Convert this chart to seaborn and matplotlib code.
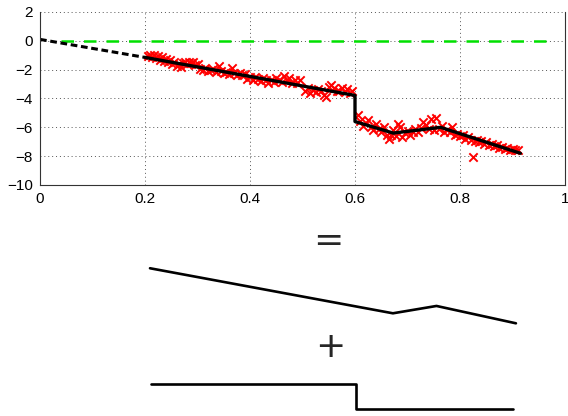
import numpy as np
import pandas as pd
import matplotlib
matplotlib.use("Agg")
import matplotlib.pyplot as plt
import seaborn as sns

# ---- data ----
obs_x = [0.205, 0.21, 0.213, 0.217, 0.22, 0.224, 0.228, 0.232, 0.236, 0.24, 0.244, 0.248,
         0.252, 0.256, 0.26, 0.264, 0.268, 0.272, 0.276, 0.28, 0.284, 0.288, 0.292, 0.296, 0.30,
         0.305, 0.31, 0.315, 0.32, 0.325, 0.33, 0.335, 0.34, 0.345, 0.35, 0.355, 0.36, 0.365,
         0.37, 0.375, 0.38, 0.385, 0.39, 0.395, 0.40,
         0.405, 0.41, 0.415, 0.42, 0.425, 0.43, 0.435, 0.44, 0.445, 0.45, 0.455, 0.46, 0.465,
         0.47, 0.475, 0.48, 0.485, 0.49, 0.495,
         0.505, 0.51, 0.515, 0.52, 0.525, 0.53, 0.535, 0.54, 0.545, 0.55, 0.555, 0.56, 0.565,
         0.57, 0.575, 0.58, 0.585, 0.59, 0.595,
         0.605, 0.61, 0.615, 0.62, 0.625, 0.63, 0.635, 0.64, 0.645, 0.65, 0.655, 0.66, 0.665,
         0.668, 0.672,
         0.678, 0.682, 0.686, 0.69, 0.695, 0.70, 0.705, 0.71, 0.715, 0.72, 0.725, 0.73, 0.735,
         0.74, 0.745, 0.75, 0.755, 0.76, 0.765,
         0.77, 0.775, 0.78, 0.785, 0.79, 0.795, 0.80, 0.805, 0.81, 0.815, 0.82, 0.824, 0.828,
         0.832, 0.836, 0.84, 0.845, 0.85, 0.855, 0.86, 0.865, 0.87, 0.875, 0.88, 0.885, 0.89,
         0.895, 0.90, 0.905, 0.91]
obs_y = [-1.05, -0.95, -1.15, -1.0, -1.2, -1.05, -1.3, -1.15, -1.4, -1.25, -1.45, -1.35,
         -1.6, -1.5, -1.75, -1.6, -1.8, -1.55, -1.45, -1.6, -1.45, -1.55, -1.5, -1.7, -1.6,
         -1.95, -2.05, -1.9, -2.1, -2.0, -1.95, -2.15, -1.75, -2.1, -2.25, -2.15, -2.3, -1.9,
         -2.2, -2.35, -2.2, -2.4, -2.3, -2.65, -2.5,
         -2.75, -2.5, -2.65, -2.8, -2.6, -2.7, -2.9, -2.75, -2.85, -2.55, -2.7, -2.85, -2.45,
         -2.75, -2.6, -2.95, -2.7, -2.9, -2.75,
         -3.45, -3.3, -3.6, -3.4, -3.55, -3.35, -3.5, -3.75, -3.9, -3.2, -3.05, -3.25, -3.5,
         -3.45, -3.3, -3.55, -3.35, -3.6, -3.5,
         -5.15, -5.55, -5.9, -5.7, -5.5, -6.0, -6.2, -5.8, -6.1, -6.35, -6.0, -6.55, -6.8,
         -6.5, -6.2,
         -6.6, -5.75, -6.0, -6.7, -6.4, -6.25, -6.55, -6.3, -6.15, -6.35, -6.05, -5.6, -5.85,
         -6.1, -5.45, -6.2, -5.35, -6.1, -5.9,
         -6.3, -6.2, -6.35, -5.95, -6.5, -6.45, -6.6, -6.55, -6.8, -6.7, -6.85, -8.05, -6.95,
         -6.85, -7.05, -6.95, -7.15, -7.05, -7.25, -7.15, -7.3, -7.25, -7.4, -7.35, -7.5, -7.4,
         -7.55, -7.5, -7.6, -7.55]

fit_x = [0.2, 0.6, 0.6, 0.673, 0.763, 0.915]
fit_y = [-1.15, -3.79, -5.6, -6.4, -6.0, -7.8]

extrap_x = [0.0, 0.2]
extrap_y = [0.1, -1.15]

zero_x = [0.04, 0.98]
zero_y = [0.0, 0.0]

smooth_x = [0.2, 0.674, 0.759, 0.914]
smooth_y = [-1.22, -4.685, -4.12, -5.455]

step_x = [0.202, 0.602, 0.602, 0.908]
step_y = [0.0, 0.0, -1.9, -1.9]

xticks = [0, 0.2, 0.4, 0.6, 0.8, 1]
xtick_labels = ["0", "0.2", "0.4", "0.6", "0.8", "1"]
yticks = [-10, -8, -6, -4, -2, 0, 2]
ytick_labels = ["\u221210", "\u22128", "\u22126", "\u22124", "\u22122", "0", "2"]

# ---- style ----
sns.set_style("white")
plt.rcParams["font.family"] = ["Liberation Sans", "DejaVu Sans"]

W, H = 568, 416
fig = plt.figure(figsize=(W / 100, H / 100), dpi=100)

ax = fig.add_axes([40 / W, 1 - 185 / H, 525 / W, 173 / H])

sns.lineplot(x=zero_x, y=zero_y, ax=ax, color="#00e000", lw=1.8,
             linestyle=(0, (5, 4)), sort=False, estimator=None)
sns.lineplot(x=extrap_x, y=extrap_y, ax=ax, color="black", lw=2.2,
             linestyle=(0, (2.2, 1.2)), sort=False, estimator=None)
sns.scatterplot(x=obs_x, y=obs_y, ax=ax, marker="x", color="red", s=36,
                linewidth=1.4, zorder=3)
sns.lineplot(x=fit_x, y=fit_y, ax=ax, color="black", lw=2.4, sort=False,
             estimator=None, zorder=4)

ax.set_xlim(0, 1)
ax.set_ylim(-10, 2)
ax.set_xticks(xticks)
ax.set_xticklabels(xtick_labels)
ax.set_yticks(yticks)
ax.set_yticklabels(ytick_labels)
ax.tick_params(direction="in", length=3, width=0.6, labelsize=11, colors="black",
               pad=5)
ax.grid(True, linestyle=(0, (1, 3)), color="#555555", lw=0.7)
for s in ["left", "bottom", "right"]:
    ax.spines[s].set_color("#333333")
    ax.spines[s].set_linewidth(0.8)
ax.spines["top"].set_visible(False)

# ---- lower decomposition ----
ax_s = fig.add_axes([47.5 / W, 1 - 330 / H, 512.5 / W, 70 / H])
sns.lineplot(x=smooth_x, y=smooth_y, ax=ax_s, color="black", lw=1.9,
             sort=False, estimator=None)
ax_s.set_xlim(0, 1)
ax_s.set_ylim(-5.97, -0.585)
ax_s.axis("off")

ax_j = fig.add_axes([47.5 / W, 1 - 415 / H, 512.5 / W, 40 / H])
sns.lineplot(x=step_x, y=step_y, ax=ax_j, color="black", lw=1.9,
             sort=False, estimator=None)
ax_j.set_xlim(0, 1)
ax_j.set_ylim(-2.4, 0.7)
ax_j.axis("off")

fig.text(328 / W, 1 - 241 / H, "=", ha="center", va="center", fontsize=26,
         family="DejaVu Sans")
fig.text(330 / W, 1 - 347 / H, "+", ha="center", va="center", fontsize=26,
         family="DejaVu Sans")

fig.savefig("out.png", dpi=100)
